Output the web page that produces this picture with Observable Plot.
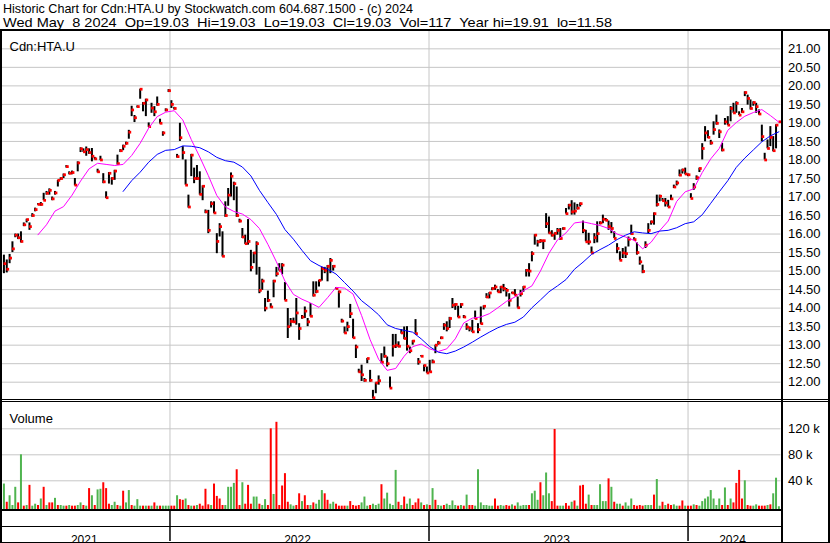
<!DOCTYPE html>
<html><head><meta charset="utf-8">
<script src="https://cdn.jsdelivr.net/npm/d3@7"></script>
<script src="https://cdn.jsdelivr.net/npm/@observablehq/plot@0.6"></script>
<style>
html,body{margin:0;padding:0;background:#fff;}
#wrap{position:relative;width:830px;height:543px;overflow:hidden;font-family:"Liberation Sans",Arial,sans-serif;color:#000;background:#fff;}
.pl{position:absolute;left:0;}
.ln{position:absolute;background:#000;}
#hdr{position:absolute;left:0;top:0;}
</style></head><body><div id="wrap">
<svg id="hdr" width="830" height="29"></svg>
<div class="pl" id="price" style="top:31px"></div>
<div class="pl" id="vol" style="top:401px"></div>
<div class="pl" id="years" style="top:511px"></div>
</div>
<script>
// ---------------- data ----------------
const title1 = "Historic Chart for Cdn:HTA.U by Stockwatch.com 604.687.1500 - (c) 2024";
const title2 = "Wed May  8 2024  Op=19.03  Hi=19.03  Lo=19.03  Cl=19.03  Vol=117  Year hi=19.91  lo=11.58";
const symbolLabel = "Cdn:HTA.U";
const volumeLabel = "Volume";

// one sample every 4 calendar days starting 2021-05-12
const firstSample = "2021-05-12";
const sampleStepDays = 4;

const closes = [
15.2,15.05,15.35,15.6,15.97,15.9,15.8,16.25,16.39,16.2,
16.5,16.66,16.8,16.8,16.91,17.1,17.18,16.95,17.11,17.45,
17.5,17.6,17.82,17.64,17.66,17.32,17.92,18.3,18.22,18.28,
18.2,18.1,18.03,17.68,18.0,17.41,16.98,17.64,17.5,17.7,
17.9,18.25,18.37,18.45,18.75,19.35,19.14,19.44,19.91,19.53,
19.62,18.9,19.4,19.3,19.5,18.99,18.73,19.35,19.87,19.5,
19.39,18.09,18.6,18.2,17.32,16.73,18.13,17.5,17.5,17.07,
17.29,16.6,16.1,16.82,16.57,15.8,16.2,15.4,16.5,17.05,
17.56,17.36,16.5,16.35,15.92,15.74,15.8,15.1,15.49,15.74,
14.48,14.73,14.0,14.21,14.03,14.73,14.93,15.02,15.16,14.21,
13.5,13.64,13.63,13.87,13.45,13.76,13.92,13.63,13.78,14.35,
14.45,14.75,15.07,15.02,15.13,15.29,15.13,14.53,14.44,13.65,
13.33,13.5,13.85,13.2,12.95,12.28,12.2,12.05,12.64,12.05,
11.58,11.98,12.04,12.54,12.7,12.5,11.84,12.97,13.0,12.97,
13.33,13.18,12.97,12.85,13.11,13.31,12.55,12.7,12.45,12.25,
12.28,12.55,13.0,13.06,13.2,13.54,13.45,13.72,14.08,14.1,
13.76,14.1,13.76,13.49,13.45,13.36,13.72,13.42,13.58,14.05,
14.3,14.41,14.53,14.57,14.44,14.57,14.53,14.48,14.21,14.41,
14.35,14.01,14.39,14.57,15.02,15.0,15.47,15.97,15.79,15.82,
15.82,16.28,16.03,15.97,16.02,16.1,15.88,16.15,16.55,16.78,
16.6,16.62,16.7,16.82,16.1,15.79,15.79,15.49,15.9,16.01,
16.3,16.4,16.37,16.2,16.15,15.88,15.61,15.29,15.49,15.47,
15.86,16.01,15.85,15.5,15.25,14.99,15.7,16.1,16.33,16.55,
16.8,17.02,16.9,16.84,16.73,16.95,17.27,17.38,17.59,17.73,
17.62,17.6,16.96,17.27,17.52,17.77,18.31,18.73,18.61,18.46,
18.82,18.99,18.76,18.27,19.03,18.94,19.39,19.27,19.53,19.21,
19.3,19.82,19.66,19.39,19.55,19.44,19.24,18.63,18.0,18.31,
18.61,18.25,18.94,19.03];

const highs = [
15.43,15.3,15.45,15.79,16.0,16.0,16.06,16.3,16.4,16.3,
16.55,16.7,16.82,16.85,17.1,17.15,17.22,17.0,17.15,17.45,
17.52,17.62,17.85,17.68,17.7,17.5,17.95,18.33,18.3,18.35,
18.3,18.31,18.07,17.75,18.1,17.63,17.14,17.66,17.52,17.72,
18.13,18.28,18.4,18.48,18.8,19.45,19.2,19.46,19.91,19.55,
19.64,19.0,19.53,19.44,19.7,19.1,18.76,19.38,19.9,19.6,
19.42,18.15,18.99,18.36,18.0,17.05,18.15,17.78,17.85,17.68,
17.3,16.65,16.64,16.87,16.87,16.01,16.28,16.06,16.87,17.23,
17.65,17.4,17.27,16.4,16.15,15.97,16.39,15.56,15.5,15.79,
15.1,14.78,14.26,14.46,14.12,14.75,15.1,15.2,15.2,14.69,
13.99,13.72,13.73,14.26,13.58,13.8,14.03,13.72,14.12,14.71,
14.71,14.75,15.1,15.1,15.15,15.34,15.15,14.55,14.46,13.7,
13.49,13.62,14.1,13.7,13.0,12.35,12.46,12.1,12.64,12.32,
11.78,11.98,12.17,12.77,12.95,12.68,12.14,13.29,13.29,13.09,
13.42,13.49,13.5,12.95,13.12,13.69,12.64,12.72,12.46,12.41,
12.59,12.6,13.0,13.1,13.22,13.58,13.63,13.75,14.26,14.12,
14.05,14.12,13.8,13.58,13.49,13.67,13.92,13.58,14.03,14.06,
14.39,14.42,14.55,14.62,14.5,14.58,14.64,14.53,14.39,14.43,
14.5,14.3,14.48,14.58,15.04,15.2,15.52,15.98,15.83,15.85,
15.83,16.55,16.46,16.09,16.03,16.15,16.15,16.17,16.69,16.8,
16.9,16.84,16.8,16.84,16.35,16.1,16.02,15.65,16.01,16.33,
16.33,16.51,16.42,16.35,16.31,16.06,15.74,15.52,15.61,15.65,
15.92,16.24,15.9,15.76,15.38,15.16,15.79,16.28,16.35,16.57,
17.05,17.05,16.96,16.96,16.91,17.05,17.32,17.43,17.73,17.75,
17.78,17.62,17.09,17.36,17.57,17.78,18.44,18.9,18.79,18.53,
19.03,19.21,18.81,18.45,19.12,19.17,19.44,19.53,19.57,19.3,
19.39,19.84,19.75,19.62,19.57,19.53,19.35,18.94,18.18,18.54,
18.9,18.63,18.95,19.03];

const lows = [
14.93,14.95,15.2,15.5,15.9,15.85,15.76,16.2,16.3,16.1,
16.45,16.6,16.78,16.75,16.9,17.05,17.05,16.9,17.05,17.27,
17.45,17.5,17.78,17.6,17.6,17.3,17.68,18.2,18.2,18.1,
18.15,17.95,18.0,17.65,17.98,17.36,16.96,17.35,17.32,17.45,
17.86,18.2,18.25,18.4,18.56,19.17,19.01,19.4,19.64,19.3,
19.17,18.88,19.26,19.17,19.45,18.97,18.64,19.3,19.82,19.39,
19.35,18.05,18.5,18.0,17.32,16.7,17.55,17.36,17.45,17.05,
16.9,16.55,16.01,16.7,16.55,15.47,15.92,15.38,16.45,16.75,
17.0,16.9,16.45,16.3,15.88,15.72,15.7,14.98,15.2,14.89,
14.39,14.48,13.9,14.15,14.0,14.28,14.84,15.0,14.9,14.2,
13.18,13.49,13.6,13.54,13.13,13.7,13.72,13.5,13.76,14.3,
14.39,14.57,14.73,14.93,14.71,14.93,15.0,14.5,14.0,13.6,
13.31,13.36,13.72,13.18,12.64,12.25,12.02,12.0,12.5,12.0,
11.55,11.69,11.92,12.5,12.65,12.41,11.84,12.68,12.91,12.93,
13.3,13.15,12.84,12.77,13.0,13.3,12.46,12.68,12.28,12.24,
12.26,12.5,12.77,13.0,13.15,13.4,13.36,13.45,13.99,13.94,
13.74,13.99,13.72,13.4,13.36,13.34,13.7,13.31,13.56,13.95,
14.26,14.25,14.47,14.48,14.42,14.39,14.44,14.3,14.03,14.38,
14.33,14.0,14.3,14.43,14.84,14.84,15.25,15.7,15.65,15.75,
15.58,16.15,16.0,15.92,15.83,15.97,15.83,16.1,16.54,16.65,
16.51,16.51,16.65,16.73,16.01,15.79,15.7,15.47,15.74,15.76,
16.25,16.28,16.35,16.1,16.01,15.88,15.47,15.28,15.34,15.34,
15.65,15.97,15.83,15.43,15.16,14.93,15.61,16.01,16.24,16.24,
16.73,16.87,16.88,16.73,16.72,16.91,17.23,17.3,17.55,17.62,
17.6,17.55,16.96,17.18,17.45,17.66,18.0,18.49,18.58,18.4,
18.67,18.94,18.58,18.22,18.94,18.93,19.03,19.26,19.26,19.2,
19.26,19.71,19.48,19.35,19.45,19.26,19.21,18.49,18.0,18.3,
18.36,18.22,18.3,19.03];

// short moving average (magenta): every 3rd sample from sample 12
const maShortFirst = 12, maShortEvery = 3;
const maShort = [
15.98,16.25,16.62,16.74,17.05,17.43,17.76,17.91,17.88,17.85,
17.88,18.12,18.45,18.86,19.17,19.29,19.33,19.08,18.55,18.08,
17.58,17.04,16.73,16.61,16.54,16.39,16.15,15.72,15.25,14.73,
14.37,14.24,14.14,14.02,14.28,14.56,14.54,14.38,13.8,13.15,
12.62,12.32,12.37,12.7,12.96,13.03,12.9,12.83,12.9,13.17,
13.6,13.73,13.76,13.85,14.01,14.18,14.3,14.47,14.6,15.0,
15.48,15.84,16.03,16.3,16.33,16.28,16.23,16.15,16.0,15.92,
15.83,15.6,15.78,16.09,16.35,16.88,17.14,17.22,17.66,18.03,
18.31,18.8,19.01,19.18,19.28,19.36,19.2,19.02];

// long moving average (blue): every 3rd sample from sample 42
const maLongFirst = 42, maLongEvery = 3;
const maLong = [
17.15,17.44,17.67,17.94,18.15,18.26,18.28,18.38,18.37,18.33,
18.22,18.07,17.98,17.94,17.81,17.57,17.18,16.85,16.53,16.12,
15.86,15.56,15.28,15.15,15.05,14.92,14.69,14.46,14.2,14.02,
13.82,13.55,13.45,13.4,13.35,13.17,12.96,12.81,12.77,12.84,
12.95,13.08,13.22,13.35,13.47,13.56,13.62,13.76,14.01,14.22,
14.44,14.6,14.77,15.05,15.24,15.45,15.58,15.7,15.85,15.97,
16.06,16.03,16.01,16.08,16.1,16.17,16.28,16.33,16.52,16.83,
17.14,17.44,17.8,18.05,18.27,18.49,18.65,18.76];

// volume in thousands of shares, per sample
const volumes = [
35,7,17,2,30,6,80,1,2,33, 1,4,2,12,30,2,6,6,13,2,
2,1,1,2,1,1,2,6,2,1, 28,17,2,26,27,37,28,4,2,7,
2,1,24,6,25,2,1,11,1,1, 1,1,1,6,1,1,1,1,1,1,
1,17,11,10,12,2,1,1,2,4, 1,27,3,2,35,16,12,2,2,30,
30,36,57,2,37,4,33,4,15,15, 4,2,11,2,120,19,130,2,32,51,
7,3,1,2,20,8,17,2,2,6, 4,10,25,20,10,4,7,4,1,1,
1,1,8,2,1,2,6,15,1,2, 4,2,4,34,12,21,4,2,56,7,
2,15,4,12,2,6,12,6,2,3, 2,28,10,2,1,2,4,2,9,2,
1,2,1,18,2,2,1,57,6,2, 2,1,1,12,1,2,1,2,1,3,
1,6,1,2,2,2,20,24,10,37, 17,52,20,8,119,1,1,1,5,1,
7,9,1,32,33,4,18,2,2,2, 34,8,8,43,30,7,4,4,1,6,
1,12,2,1,2,1,2,2,2,18, 42,1,7,2,4,2,3,1,1,9,
1,1,1,3,2,1,8,12,15,25, 12,2,12,2,29,2,12,6,36,56,
12,40,2,1,1,3,1,1,1,2, 3,20,44,0.1];
// g = close up (green), r = close down (red)
const volumeSide = [
"g","r","g","g","g","r","g","r","g","r", "g","g","r","g","r","g","r","r","g","r",
"g","g","r","g","r","r","g","g","r","g", "r","g","r","g","g","r","r","r","g","g",
"r","g","r","g","g","r","g","g","g","r", "g","r","g","r","g","r","g","g","g","r",
"r","g","r","r","g","r","g","r","g","r", "r","r","r","g","r","r","r","r","g","g",
"g","g","r","r","g","r","r","r","g","g", "r","g","g","r","r","g","r","r","r","r",
"r","g","g","r","r","g","r","r","g","r", "g","g","g","r","r","g","g","r","r","r",
"r","g","r","r","r","r","g","g","g","r", "g","g","g","r","g","g","g","g","g","r",
"g","r","g","g","r","r","r","g","r","g", "r","g","r","g","g","r","g","g","g","g",
"r","g","r","g","r","r","g","g","g","g", "g","g","g","r","r","g","g","r","r","g",
"r","g","g","g","g","r","g","g","g","r", "g","g","g","r","r","r","g","g","r","r",
"g","r","g","r","r","r","g","r","g","g", "g","g","g","r","g","r","g","g","r","g",
"g","g","r","r","r","r","g","g","g","r", "g","g","r","g","r","r","g","g","r","r",
"g","r","r","g","r","g","g","g","g","g", "g","g","g","r","g","r","g","r","r","r",
"r","g","r","r","g","g","r","r","r","g", "r","g","g","g"];

const priceTicks = [12,12.5,13,13.5,14,14.5,15,15.5,16,16.5,17,17.5,18,18.5,19,19.5,20,20.5,21];
const volumeTicks = [40,80,120];
const years = [2021,2022,2023,2024];

// ---------------- build ----------------
const font = '"Liberation Sans", Arial, sans-serif';
const gridColor = "#c6c6c6";
const upColor = "#4fb44f";
const downColor = "#ff0000";

const start = new Date(firstSample + "T00:00:00Z");
const dates = closes.map((_, i) => d3.utcDay.offset(start, i * sampleStepDays));
const bars = dates.map((d, i) => ({date: d, close: closes[i], high: highs[i], low: lows[i]}));
const shortLine = maShort.map((v, k) => ({date: dates[maShortFirst + k * maShortEvery], v}));
const longLine = maLong.map((v, k) => ({date: dates[maLongFirst + k * maLongEvery], v}));
const volData = dates.map((d, i) => ({date: d, v: volumes[i], up: volumeSide[i] === "g"}));

const xDomain = [new Date("2021-05-10T00:00:00Z"), new Date("2024-05-11T00:00:00Z")];
const yearStarts = years.slice(1).map(y => new Date(Date.UTC(y, 0, 1)));
const yearMids = years.map(y => {
  const a = Math.max(+new Date(Date.UTC(y, 0, 1)), +xDomain[0]);
  const b = Math.min(+new Date(Date.UTC(y + 1, 0, 1)), +xDomain[1]);
  return {year: String(y), date: new Date((a + b) / 2)};
});

const common = {width: 830, marginLeft: 2, marginRight: 49.5, marginTop: 0, marginBottom: 0,
  style: {background: "transparent", overflow: "visible", fontFamily: font}};
const xOpt = {type: "utc", domain: xDomain, axis: null};

// price panel (y pixel 31..399)
const price = Plot.plot({
  ...common, height: 368,
  x: xOpt,
  y: {domain: [11.533, 21.468], axis: null},
  marks: [
    Plot.ruleY(priceTicks, {stroke: gridColor, strokeWidth: 1}),
    Plot.ruleX(yearStarts, {stroke: gridColor, strokeWidth: 1}),
    Plot.ruleX(bars, {x: "date", y1: "low", y2: "high", stroke: "#000", strokeWidth: 2}),
    Plot.dot(bars, {x: "date", y: "close", symbol: "square", r: 1.55, fill: "#ff0000", dx: 1}),
    Plot.line(shortLine, {x: "date", y: "v", stroke: "#ff00ff", strokeWidth: 1}),
    Plot.line(longLine, {x: "date", y: "v", stroke: "#0000ff", strokeWidth: 1}),
    Plot.text(priceTicks, {x: xDomain[1], y: d => d, text: d => d.toFixed(2), textAnchor: "start", dx: 7, fontSize: 13, fill: "#000"}),
    Plot.text([symbolLabel], {frameAnchor: "top-left", textAnchor: "start", dx: 7, dy: 10.5, fontSize: 13, fill: "#000"})
  ]
});
document.getElementById("price").append(price);

// volume panel (y pixel 401..509)
const vol = Plot.plot({
  ...common, height: 108,
  x: xOpt,
  y: {domain: [-4.15, 162], axis: null},
  marks: [
    Plot.ruleY(volumeTicks, {stroke: gridColor}),
    Plot.ruleX(yearStarts, {stroke: gridColor}),
    Plot.ruleX(volData, {x: "date", y1: -4.15, y2: "v", stroke: d => d.up ? upColor : downColor, strokeWidth: 2}),
    Plot.text(volumeTicks, {x: xDomain[1], y: d => d, text: d => d + " k", textAnchor: "start", dx: 7, fontSize: 13, fill: "#000"}),
    Plot.text([volumeLabel], {frameAnchor: "top-left", textAnchor: "start", dx: 7, dy: 12, fontSize: 13, fill: "#000"})
  ]
});
document.getElementById("vol").append(vol);

// year band (y pixel 511..541)
const yr = Plot.plot({
  ...common, height: 30,
  x: xOpt,
  marks: [
    Plot.ruleX(yearStarts, {stroke: "#000", strokeWidth: 1.5}),
    Plot.text(yearMids, {x: "date", frameAnchor: "top", dy: 23.6, dx: -2, text: "year", fontSize: 12, fill: "#000"})
  ]
});
document.getElementById("years").append(yr);

// header text
const hdr = d3.select("#hdr");
hdr.append("text").attr("x", 3).attr("y", 13).attr("font-family", font).attr("font-size", 13)
  .attr("textLength", 410).attr("lengthAdjust", "spacingAndGlyphs").style("white-space", "pre").text(title1);
hdr.append("text").attr("x", 3).attr("y", 27).attr("font-family", font).attr("font-size", 13)
  .attr("textLength", 609).attr("lengthAdjust", "spacingAndGlyphs").style("white-space", "pre").text(title2);

// frame lines
const wrap = document.getElementById("wrap");
function line(l, t, w, h) { const d = document.createElement("div"); d.className = "ln";
  Object.assign(d.style, {left: l + "px", top: t + "px", width: w + "px", height: h + "px"}); wrap.append(d); }
line(0, 29, 830, 2);     // top rule
line(0, 29, 2, 514);     // left
line(828, 29, 2, 514);   // right outer
line(780.5, 29, 2.5, 514); // right of plot
line(0, 399, 830, 1);    // panel separator (double)
line(0, 401, 830, 1);
line(0, 509, 783, 2);    // volume bottom
line(0, 526, 783, 1);    // between rows
line(0, 541.5, 830, 1.5);  // bottom
</script>
</body></html>
